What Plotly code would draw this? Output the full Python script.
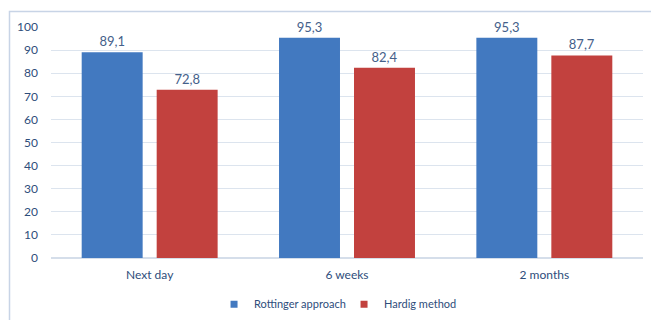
import plotly.graph_objects as go

categories = ["Next day", "6 weeks", "2 months"]
rottinger = [89.1, 95.3, 95.3]
hardig = [72.8, 82.4, 87.7]
series_names = ["Rottinger approach", "Hardig method"]
y_ticks = [0, 10, 20, 30, 40, 50, 60, 70, 80, 90, 100]
colors = ["#4279C0", "#C2413E"]

FONT = "Lato, 'Open Sans', sans-serif"
TXT = "#2E4D7B"

fig = go.Figure()
for name, vals, col in zip(series_names, [rottinger, hardig], colors):
    fig.add_trace(go.Bar(
        x=categories, y=vals, name=name, showlegend=False,
        marker=dict(color=col, line=dict(width=0)),
        text=[f"{v:.1f}".replace(".", ",") for v in vals],
        textposition="outside", cliponaxis=False,
        textfont=dict(family=FONT, size=13, color="#44608A"),
    ))
for name, col in zip(series_names, colors):
    fig.add_trace(go.Scatter(
        x=[None], y=[None], mode="markers", name=name,
        marker=dict(symbol="square", size=7, color=col),
    ))

fig.update_layout(
    width=651, height=320,
    margin=dict(l=51, r=8, t=27, b=62, autoexpand=False),
    paper_bgcolor="white", plot_bgcolor="white",
    barmode="group", bargap=0.24, bargroupgap=0.187,
    separators=", ",
    font=dict(family=FONT, size=12, color=TXT),
    showlegend=True,
    legend=dict(orientation="h", x=0.495, xanchor="center", y=-0.2, yanchor="middle",
                font=dict(family=FONT, size=11, color=TXT),
                entrywidth=85, entrywidthmode="pixels",
                traceorder="normal", tracegroupgap=0),
    xaxis=dict(showgrid=False, showline=False, ticks="", ticklabelstandoff=8,
               tickfont=dict(size=12, color=TXT)),
    yaxis=dict(range=[0, 100], tickvals=y_ticks, showgrid=True, gridcolor="#DCE4EE",
               gridwidth=1, zeroline=True, zerolinecolor="#D5DEEA", zerolinewidth=1.5,
               showline=False, ticks="", ticklabelstandoff=12,
               tickfont=dict(size=12, color=TXT)),
    shapes=[dict(type="rect", xref="paper", yref="paper",
                 x0=(9.5 - 51) / 592, x1=1.1, y0=-0.6, y1=1 + (27 - 11.5) / 231,
                 line=dict(color="#C8D4E6", width=1.5), layer="below")],
)

fig.write_html("out.html")
